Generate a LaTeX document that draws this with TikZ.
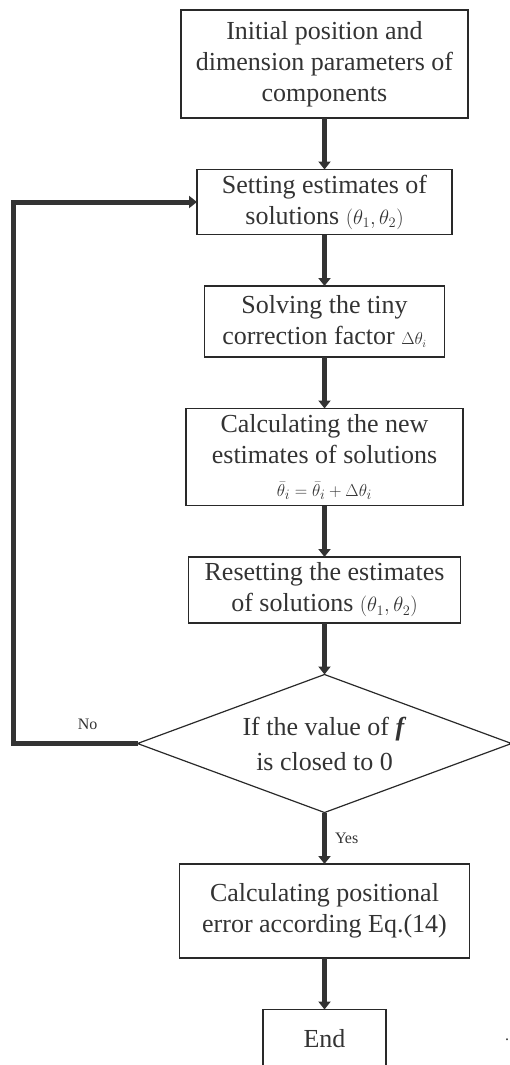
\documentclass[tikz,border=0pt]{standalone}
\usepackage{fontspec}
\setmainfont{Liberation Serif}
\usetikzlibrary{arrows.meta,shapes.geometric,positioning}
\definecolor{ink}{HTML}{333333}

\begin{document}
\begin{tikzpicture}[x=1pt,y=1pt,node distance=51.5pt]

\tikzset{stepbox/.style={draw=ink!80!black,line width=1.4pt,inner sep=0pt,outer sep=0pt,shape=rectangle,align=center,text=ink,font=\fontsize{26}{31}\selectfont},
test/.style={draw=ink!80!black,line width=1.2pt,inner sep=0pt,outer sep=0pt,shape=diamond,shape aspect=2.7,align=center,text=ink,font=\fontsize{26}{35}\selectfont,minimum width=374pt,minimum height=138pt},
flow/.style={-{Triangle[width=12pt,length=8pt]},line width=5pt,draw=ink},
answer/.style={text=ink,font=\fontsize{16}{18}\selectfont,inner sep=0pt}}

\useasboundingbox (0,0) rectangle (510,-1065);

% Steps of the iteration
\node (init) at (324.5,-64) [stepbox,minimum width=287pt,minimum height=108pt] {Initial position and\\dimension parameters of\\components};
\node (guess) [below=of init,stepbox,minimum width=255pt,minimum height=65pt] {Setting estimates of\\solutions {\fontsize{20}{20}\selectfont$(\theta_1,\theta_2)$}};
\node (solve) [below=of guess,stepbox,minimum width=240pt,minimum height=71pt] {Solving the tiny\\correction factor {\fontsize{16}{16}\selectfont$\Delta\theta_i$}};
\node (update) [below=of solve,stepbox,minimum width=277pt,minimum height=97pt] {Calculating the new\\estimates of solutions\\[2pt]{\fontsize{19}{19}\selectfont$\bar{\theta}_i=\bar{\theta}_i+\Delta\theta_i$}};
\node (reset) [below=of update,stepbox,minimum width=272pt,minimum height=66pt] {Resetting the estimates\\of solutions {\fontsize{20}{20}\selectfont$(\theta_1,\theta_2)$}};
\node (check) [below=of reset,test] {If the value of \textbf{\textit{f}}\\is closed to 0};
\node (error) [below=of check,stepbox,minimum width=290pt,minimum height=94pt] {Calculating positional\\error according Eq.(14)};
\node (finish) [below=of error,stepbox,minimum width=123pt,minimum height=58pt] {End};
\node (dot) at (507,-1040) [answer] {.};

% Arrows between the steps
\draw [flow] (init) -- (guess);
\draw [flow] (guess) -- (solve);
\draw [flow] (solve) -- (update);
\draw [flow] (update) -- (reset);
\draw [flow] (reset) -- (check);
\draw [flow] (check) -- node [answer,right=8pt] {Yes} (error);
\draw [flow] (error) -- (finish);

% Loop back when f is not small
\coordinate (back) at (13,0);
\draw [flow] (check.west) -- node [answer,above=11pt,pos=0.4] {No} (check.west -| back) |- (guess.west);

\end{tikzpicture}
\end{document}
